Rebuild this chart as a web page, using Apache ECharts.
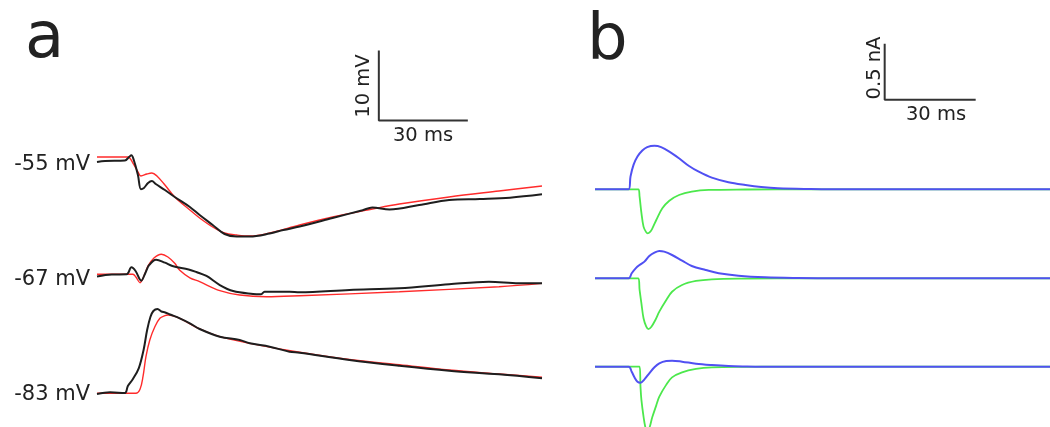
<!DOCTYPE html>
<html>
<head>
<meta charset="utf-8">
<style>
  html, body { margin: 0; padding: 0; background: #fff; }
  #main { width: 1050px; height: 427px; }
</style>
<script src="https://cdn.jsdelivr.net/npm/echarts@6/dist/echarts.min.js"></script>
</head>
<body>
<div id="main"></div>
<script>
// panel a : membrane potential (mV) vs time (ms), black = recorded, red = model
var holding = [-55, -67, -83];

var tBlack55 = [0, 2.7, 9.4, 10.8, 11.6, 12.4, 13.8, 14.8, 15.8, 17.2, 18.5, 19.8, 22.9, 26.2, 31.3, 34.6, 39.0, 43.0, 47.1, 51.5, 58.2, 62.8, 68.3, 79.4, 89.5, 92.8, 98.6, 108.6, 118.7, 129.1, 139.2, 150];
var vBlack55 = [-55.71, -55.57, -55.5, -55.0, -54.75, -55.43, -57.57, -59.6, -59.43, -58.71, -58.43, -58.86, -59.71, -60.71, -62.14, -63.29, -64.71, -66.0, -66.36, -66.36, -65.93, -65.43, -64.93, -63.71, -62.6, -62.2, -62.5, -61.86, -61.14, -61.0, -60.81, -60.33];
var tRed55 = [0, 10.4, 12.1, 13.8, 14.8, 16.8, 18.5, 20.2, 22.9, 26.2, 31.3, 34.6, 39.0, 43.0, 47.1, 51.5, 58.2, 68.3, 79.4, 92.8, 101.9, 118.7, 135.5, 150];
var vRed55 = [-55, -55, -55.86, -57.14, -57.71, -57.43, -57.29, -57.71, -59.0, -60.71, -62.57, -63.71, -65.0, -65.86, -66.14, -66.29, -65.86, -64.71, -63.57, -62.43, -61.71, -60.71, -59.86, -59.14];

var tBlack67 = [0, 5, 10.0, 11.6, 13.0, 14.9, 16.3, 17.6, 19.9, 22.9, 25.4, 30.9, 33.5, 36.9, 41.4, 45.9, 52.6, 55.2, 56.5, 64.9, 68.3, 85.1, 101.9, 118.7, 132.1, 142.2, 150];
var vBlack67 = [-67.31, -67.03, -67.0, -66.0, -66.53, -67.91, -66.81, -65.67, -64.91, -65.34, -65.81, -66.31, -66.67, -67.24, -68.53, -69.39, -69.81, -69.86, -69.5, -69.49, -69.57, -69.24, -69.0, -68.43, -68.06, -68.29, -68.29];
var tRed67 = [0, 12.1, 13.1, 14.5, 16.1, 17.2, 19.2, 21.7, 23.9, 26.2, 27.9, 31.3, 34.6, 41.4, 48.1, 57.1, 68.3, 101.9, 135.5, 150];
var vRed67 = [-67, -67, -67.39, -68.2, -66.96, -65.81, -64.67, -64.14, -64.53, -65.43, -66.43, -67.5, -68.05, -69.34, -69.96, -70.2, -70.06, -69.49, -68.77, -68.29];

var tBlack83 = [0, 4.4, 9.4, 10.4, 12.1, 14.1, 15.7, 16.9, 18.0, 19.0, 20.4, 21.7, 23.0, 24.6, 27.9, 31.3, 34.6, 41.4, 48.1, 51.5, 58.2, 64.9, 68.3, 85.1, 101.9, 118.7, 135.5, 150];
var vBlack83 = [-83.1, -82.86, -82.96, -81.96, -80.96, -79.39, -76.81, -73.96, -72.1, -71.24, -70.96, -71.31, -71.46, -71.74, -72.29, -73.0, -73.81, -74.91, -75.39, -75.86, -76.34, -77.06, -77.2, -78.24, -79.06, -79.77, -80.29, -80.86];
var tRed83 = [0, 13.1, 14.5, 15.5, 16.5, 17.8, 19.5, 21.2, 22.9, 23.9, 27.9, 34.6, 41.4, 51.5, 68.3, 85.1, 101.9, 118.7, 135.5, 150];
var vRed83 = [-83, -83, -82.43, -80.63, -77.77, -75.39, -73.49, -72.29, -71.91, -71.81, -72.29, -73.81, -74.91, -75.86, -77.14, -78.17, -78.91, -79.67, -80.24, -80.71];

// panel b : currents (nA) vs time (ms)
var tBlue55 = [0, 11.1, 11.7, 12.7, 14.0, 15.6, 17.2, 19.6, 21.8, 24.5, 27.7, 31.0, 34.2, 38.5, 44.0, 49.6, 54.8, 60.3, 71.1, 83, 150];
var iBlue55 = [0, 0, 0.113, 0.218, 0.292, 0.346, 0.376, 0.388, 0.376, 0.337, 0.277, 0.208, 0.157, 0.104, 0.063, 0.038, 0.020, 0.009, 0.003, 0, 0];
var tGreen55 = [0, 14.3, 14.7, 15.3, 16.0, 16.8, 17.4, 18.0, 18.8, 20.2, 22.2, 24.5, 27.7, 31.9, 37.5, 49.6, 71, 150];
var iGreen55 = [0, 0, -0.066, -0.211, -0.333, -0.38, -0.393, -0.385, -0.355, -0.274, -0.170, -0.102, -0.051, -0.021, -0.006, -0.002, 0, 0];

var tBlue67 = [0, 11.1, 12.1, 13.4, 14.7, 16.3, 17.9, 19.6, 21.2, 22.8, 25.4, 28.7, 31.9, 36.5, 40.8, 47.3, 56.1, 66.8, 80, 150];
var iBlue67 = [0, 0, 0.045, 0.089, 0.119, 0.149, 0.199, 0.229, 0.244, 0.238, 0.208, 0.158, 0.110, 0.074, 0.045, 0.023, 0.009, 0.003, 0, 0];
var tGreen67 = [0, 14.3, 14.7, 15.3, 16.0, 16.9, 17.6, 18.6, 19.9, 21.2, 23.5, 25.4, 28.7, 33.3, 38.5, 49.6, 70, 150];
var iGreen67 = [0, 0, -0.104, -0.223, -0.357, -0.432, -0.453, -0.432, -0.372, -0.298, -0.194, -0.120, -0.060, -0.024, -0.009, -0.003, 0, 0];

var tBlue83 = [0, 11.1, 12.1, 13.0, 14.0, 15.0, 16.3, 17.9, 19.6, 21.2, 23.5, 25.4, 28.7, 33.3, 38.5, 44.0, 49.6, 55, 150];
var iBlue83 = [0, 0, -0.045, -0.094, -0.134, -0.143, -0.113, -0.059, -0.005, 0.030, 0.051, 0.054, 0.045, 0.027, 0.015, 0.006, 0.002, 0, 0];
var tGreen83 = [0, 14.7, 15.0, 15.3, 16.0, 16.6, 17.3, 17.9, 18.9, 20.2, 21.2, 23.5, 25.4, 28.7, 33.3, 38.5, 49.6, 60, 150];
var iGreen83 = [0, 0, -0.179, -0.297, -0.446, -0.54, -0.58, -0.55, -0.45, -0.345, -0.268, -0.16, -0.095, -0.05, -0.02, -0.006, -0.001, 0, 0];

// scale bars
var barA = { t: 95, v: -49.8, dt: 30, dv: 10, tLabel: '30 ms', vLabel: '10 mV' };
var barB = { t: 95.5, v: 0.8, dt: 30, dv: 0.5, tLabel: '30 ms', vLabel: '0.5 nA' };

var H = 427;
var FONT = '"DejaVu Sans", sans-serif';
var grids = [], xAxes = [], yAxes = [], series = [];

// one grid per trace row, all same height, y range chosen so baseline sits at basePx
function addRow(left, width, baseVal, basePx, pxPerUnit) {
    var i = grids.length;
    var max = baseVal + basePx / pxPerUnit;
    grids.push({ left: left, width: width, top: 0, height: H });
    xAxes.push({ type: 'value', gridIndex: i, min: 0, max: 150, show: false });
    yAxes.push({ type: 'value', gridIndex: i, min: max - H / pxPerUnit, max: max, show: false });
    return i;
}

function trace(idx, t, v, color, w) {
    series.push({
        type: 'line', xAxisIndex: idx, yAxisIndex: idx,
        data: t.map(function (x, j) { return [x, v[j]]; }),
        showSymbol: false, smooth: 0.35, silent: true,
        lineStyle: { color: color, width: w }
    });
}

function scaleBar(idx, b) {
    series.push({
        type: 'line', xAxisIndex: idx, yAxisIndex: idx,
        data: [[b.t, b.v + b.dv], [b.t, b.v], [b.t + b.dt, b.v]],
        showSymbol: false, silent: true,
        lineStyle: { color: '#333', width: 2 }
    });
}

var basePxA = [157, 274.3, 393.3];
var basePxB = [189.3, 278.3, 366.7];

var a0 = addRow(97, 445, holding[0], basePxA[0], 7);
var a1 = addRow(97, 445, holding[1], basePxA[1], 7);
var a2 = addRow(97, 445, holding[2], basePxA[2], 7);
var b0 = addRow(595, 462, 0, basePxB[0], 112);
var b1 = addRow(595, 462, 0, basePxB[1], 112);
var b2 = addRow(595, 462, 0, basePxB[2], 112);

trace(a0, tRed55, vRed55, '#ff2b2b', 1.4);
trace(a0, tBlack55, vBlack55, '#1e1e1e', 2);
trace(a1, tRed67, vRed67, '#ff2b2b', 1.4);
trace(a1, tBlack67, vBlack67, '#1e1e1e', 2);
trace(a2, tRed83, vRed83, '#ff2b2b', 1.4);
trace(a2, tBlack83, vBlack83, '#1e1e1e', 2);

trace(b0, tGreen55, iGreen55, '#4ce84c', 1.8);
trace(b0, tBlue55, iBlue55, '#5050f2', 2);
trace(b1, tGreen67, iGreen67, '#4ce84c', 1.8);
trace(b1, tBlue67, iBlue67, '#5050f2', 2);
trace(b2, tGreen83, iGreen83, '#4ce84c', 1.8);
trace(b2, tBlue83, iBlue83, '#5050f2', 2);

scaleBar(a0, barA);
scaleBar(b0, barB);

function txt(x, y, s, size, align, rot) {
    return {
        type: 'text', x: x, y: y, rotation: rot || 0, silent: true,
        style: { text: s, font: size + 'px ' + FONT, fill: '#222', align: align || 'center', verticalAlign: 'middle' }
    };
}

var labelsY = [165, 280, 395];
var graphics = [
    txt(25, 40, 'a', 64, 'left'),
    txt(587, 42, 'b', 64, 'left'),
    txt(423, 136, barA.tLabel, 19.5),
    txt(364, 86, barA.vLabel, 19.5, 'center', Math.PI / 2),
    txt(936, 115, barB.tLabel, 19.5),
    txt(875, 68, barB.vLabel, 19.5, 'center', Math.PI / 2)
];
holding.forEach(function (h, k) {
    graphics.push(txt(90, labelsY[k], h + ' mV', 21, 'right'));
});

var myChart = echarts.init(document.getElementById('main'));
myChart.setOption({
    animation: false,
    backgroundColor: '#fff',
    grid: grids,
    xAxis: xAxes,
    yAxis: yAxes,
    series: series,
    graphic: graphics
});
</script>
</body>
</html>
